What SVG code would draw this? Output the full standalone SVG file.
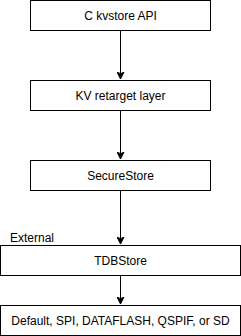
<svg xmlns="http://www.w3.org/2000/svg" width="241" height="336" viewBox="0 0 241 336">
<style>
.box{fill:#fff;stroke:#000;stroke-width:1}
.lbl{font-family:"Liberation Sans",Arial,sans-serif;font-size:12px;fill:#000;text-anchor:middle;dominant-baseline:central}
.edge{stroke:#000;stroke-width:1;fill:none;marker-end:url(#arr)}
</style>
<defs>
<marker id="arr" markerWidth="8" markerHeight="8" viewBox="0 0 8 8" refX="7" refY="4" orient="auto" markerUnits="userSpaceOnUse">
<path d="M0,0.5 L7,4 L0,7.5 L1.75,4 Z" fill="#000" stroke="#000" stroke-width="1"/>
</marker>
</defs>
<rect width="241" height="336" fill="#fff"/>
<g id="connectors">
<path class="edge" d="M120.5,30.5 V79"/>
<path class="edge" d="M120.5,110.5 V159"/>
<path class="edge" d="M120.5,190.5 V244"/>
<path class="edge" d="M120.5,275.5 V304"/>
</g>
<g id="n1"><rect class="box" x="30.5" y="0.5" width="180" height="30"/><text class="lbl" x="120.5" y="15.5">C kvstore API</text></g>
<g id="n2"><rect class="box" x="30.5" y="80.5" width="180" height="30"/><text class="lbl" x="120.5" y="95.5">KV retarget layer</text></g>
<g id="n3"><rect class="box" x="30.5" y="160.5" width="180" height="30"/><text class="lbl" x="120.5" y="175.5">SecureStore</text></g>
<g id="n4"><rect class="box" x="0.5" y="245.5" width="240" height="30"/><text class="lbl" x="120.5" y="260.5">TDBStore</text></g>
<g id="n5"><rect class="box" x="0.5" y="305.5" width="240" height="30"/><text class="lbl" x="120.5" y="320.5">Default, SPI, DATAFLASH, QSPIF, or SD</text></g>
<g id="ext"><text x="10" y="242" style="font-family:'Liberation Sans',Arial,sans-serif;font-size:12px;fill:#000">External</text></g>
</svg>
